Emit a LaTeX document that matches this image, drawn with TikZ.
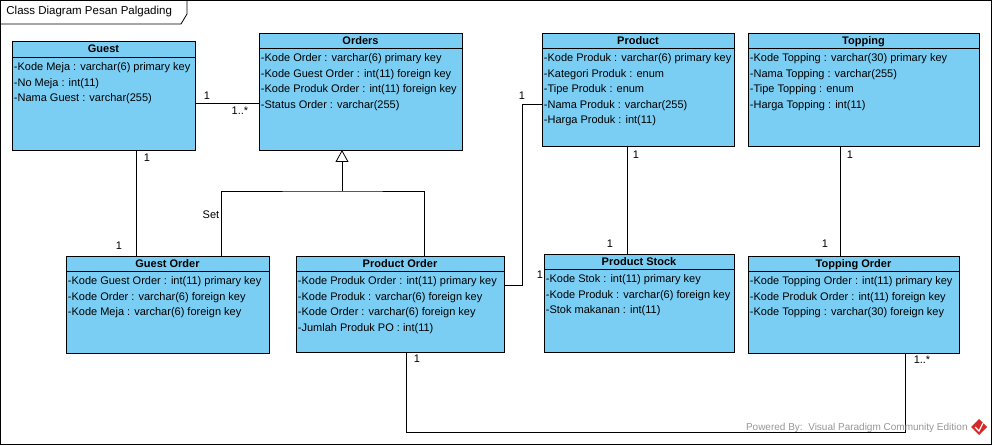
\documentclass[tikz,border=0pt]{standalone}
\usepackage{fontspec}
\setmainfont{Liberation Sans}
\usetikzlibrary{positioning, calc, arrows.meta}

\definecolor{classblue}{RGB}{122,206,244}
\definecolor{vpgray}{RGB}{150,150,150}
\definecolor{vpred}{RGB}{214,40,40}

\tikzset{
    classhead/.style={draw, fill=classblue, anchor=north west, outer sep=0pt, inner sep=0pt, minimum height=15pt, text height=7.9pt, text depth=0pt, font=\fontsize{11}{13}\selectfont\bfseries},
    classbody/.style={draw, fill=classblue, anchor=north west, outer sep=0pt, inner sep=0pt},
    attrs/.style={anchor=north west, align=left, inner xsep=1.5pt, inner ysep=0pt, yshift=-5.4pt, font=\fontsize{11}{15.5}\selectfont},
    mult/.style={inner sep=0pt, font=\fontsize{11}{13}\selectfont},
    generalize/.style={-{Triangle[open, length=12pt, width=13pt]}},
}

\begin{document}
\begin{tikzpicture}[x=1pt, y=-1pt, line width=0.8pt]

    \useasboundingbox (0,0) rectangle (993,446);

    % Frame
    \draw (0.5,0.5) rectangle (991.5,444.5);
    \draw (0.5,24) -- (181,24) -- (187,14) -- (187,0.5);
    \node[anchor=west, inner sep=0pt, font=\fontsize{11.5}{13}\selectfont] (title) at (6,12) {Class Diagram Pesan Palgading};

    % Guest
    \node[classhead, minimum width=183pt, minimum height=16pt] (guest-t) at (12,41) {Guest};
    \node[classbody, minimum width=183pt, minimum height=93pt] (guest-b) at (guest-t.south west) {};
    \node[attrs] (guest-a) at (guest-b.north west) {-Kode Meja : varchar(6) primary key\\-No Meja : int(11)\\-Nama Guest : varchar(255)};

    % Orders
    \node[classhead, minimum width=203pt] (orders-t) at (259,33) {Orders};
    \node[classbody, minimum width=203pt, minimum height=102pt] (orders-b) at (orders-t.south west) {};
    \node[attrs] (orders-a) at (orders-b.north west) {-Kode Order : varchar(6) primary key\\-Kode Guest Order : int(11) foreign key\\-Kode Produk Order : int(11) foreign key\\-Status Order : varchar(255)};

    % Product
    \node[classhead, minimum width=192pt] (product-t) at (542,33) {Product};
    \node[classbody, minimum width=192pt, minimum height=98pt] (product-b) at (product-t.south west) {};
    \node[attrs] (product-a) at (product-b.north west) {-Kode Produk : varchar(6) primary key\\-Kategori Produk : enum\\-Tipe Produk : enum\\-Nama Produk : varchar(255)\\-Harga Produk : int(11)};

    % Topping
    \node[classhead, minimum width=231pt] (topping-t) at (748,33) {Topping};
    \node[classbody, minimum width=231pt, minimum height=98pt] (topping-b) at (topping-t.south west) {};
    \node[attrs] (topping-a) at (topping-b.north west) {-Kode Topping : varchar(30) primary key\\-Nama Topping : varchar(255)\\-Tipe Topping : enum\\-Harga Topping : int(11)};

    % Guest Order
    \node[classhead, minimum width=203pt] (go-t) at (66,256) {Guest Order};
    \node[classbody, minimum width=203pt, minimum height=82pt] (go-b) at (go-t.south west) {};
    \node[attrs] (go-a) at (go-b.north west) {-Kode Guest Order : int(11) primary key\\-Kode Order : varchar(6) foreign key\\-Kode Meja : varchar(6) foreign key};

    % Product Order
    \node[classhead, minimum width=208pt] (po-t) at (296,256) {Product Order};
    \node[classbody, minimum width=208pt, minimum height=81pt] (po-b) at (po-t.south west) {};
    \node[attrs] (po-a) at (po-b.north west) {-Kode Produk Order : int(11) primary key\\-Kode Produk : varchar(6) foreign key\\-Kode Order : varchar(6) foreign key\\-Jumlah Produk PO : int(11)};

    % Product Stock
    \node[classhead, minimum width=190pt] (ps-t) at (544,254) {Product Stock};
    \node[classbody, minimum width=190pt, minimum height=83pt] (ps-b) at (ps-t.south west) {};
    \node[attrs] (ps-a) at (ps-b.north west) {-Kode Stok : int(11) primary key\\-Kode Produk : varchar(6) foreign key\\-Stok makanan : int(11)};

    % Topping Order
    \node[classhead, minimum width=211pt] (to-t) at (748,256) {Topping Order};
    \node[classbody, minimum width=211pt, minimum height=82pt] (to-b) at (to-t.south west) {};
    \node[attrs] (to-a) at (to-b.north west) {-Kode Topping Order : int(11) primary key\\-Kode Produk Order : int(11) foreign key\\-Kode Topping : varchar(30) foreign key};

    % Associations
    \draw (guest-b.east) -- (guest-b.east -| orders-b.west);
    \coordinate (g1) at ([xshift=32.5pt]guest-b.south);
    \draw (g1) -- (g1 |- go-t.north);
    \draw ([yshift=26.5pt]po-b.east) -- ++(18,0) |- ([yshift=-7pt]product-b.west);
    \coordinate (p1) at ([xshift=-11pt]product-b.south);
    \draw (p1) -- (p1 |- ps-t.north);
    \coordinate (t1) at ([xshift=-23.5pt]topping-b.south);
    \draw (t1) -- (t1 |- to-t.north);
    \draw ([xshift=6pt]po-b.south) -- ++(0,80) -| ([xshift=51.5pt]to-b.south);

    % Generalization
    \coordinate (gen) at (342,191);
    \draw[generalize] (gen) -- (gen |- orders-b.south);
    \draw ([xshift=53.5pt]go-t.north) |- (gen) -| ([xshift=24pt]po-t.north);

    % Multiplicities
    \node[mult] (m1) at (207,96) {1};
    \node[mult] (m2) at (240,111) {1..*};
    \node[mult] (m3) at (147,158) {1};
    \node[mult] (m4) at (119,246) {1};
    \node[mult] (set) at (211,215) {Set};
    \node[mult] (m5) at (522,96) {1};
    \node[mult] (m6) at (540,275) {1};
    \node[mult] (m7) at (636,155) {1};
    \node[mult] (m8) at (610,244) {1};
    \node[mult] (m9) at (850,155) {1};
    \node[mult] (m10) at (825,244) {1};
    \node[mult] (m11) at (417,359) {1};
    \node[mult] (m12) at (922,360) {1..*};

    % Watermark
    \node[anchor=east, inner sep=0pt, text=vpgray, font=\fontsize{10}{12}\selectfont] (vp) at (968,428) {Powered By:\ \ Visual Paradigm Community Edition};
    \fill[vpred] (979,419) -- (987,427) -- (979,435) -- (971,427) -- cycle;
    \draw[white, line width=1.2pt] (975,427) -- (979,431) -- (983,423);

\end{tikzpicture}
\end{document}
